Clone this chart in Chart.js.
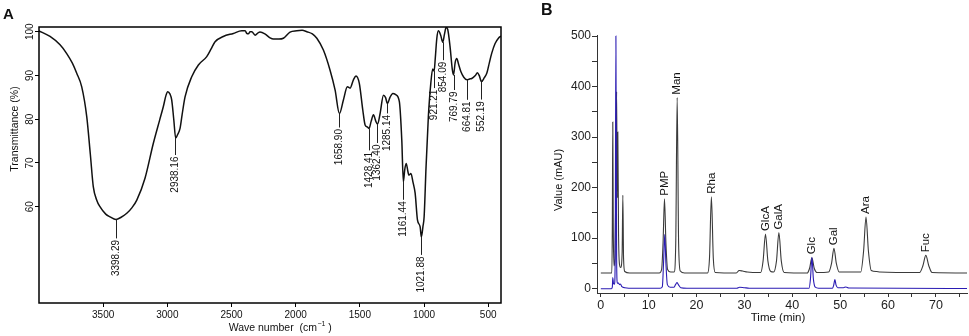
<!DOCTYPE html>
<html>
<head>
<meta charset="utf-8">
<script src="https://cdn.jsdelivr.net/npm/chart.js@4.4.1/dist/chart.umd.min.js"></script>
<style>
html, body { margin: 0; padding: 0; background: #fff; }
#wrap { position: relative; width: 969px; height: 336px; overflow: hidden; }
#ftir { position: absolute; left: 0; top: 0; }
#hplc { position: absolute; left: 520px; top: 0; }
</style>
</head>
<body>
<div id="wrap">
  <canvas id="ftir" width="515" height="336" style="width:515px;height:336px"></canvas>
  <canvas id="hplc" width="449" height="336" style="width:449px;height:336px"></canvas>
</div>
<script>
// ---- panel A : FTIR spectrum ----
const ftirWave = [4000, 3914, 3836, 3784, 3740, 3706, 3667, 3628, 3600, 3577, 3550, 3525, 3480, 3447, 3400, 3360, 3316, 3275, 3238, 3174,
  3109, 3060, 3031, 3010, 2997, 2980, 2966, 2950, 2935, 2920, 2901, 2885, 2862, 2810, 2758, 2693, 2660, 2628, 2564, 2486,
  2420, 2394, 2381, 2369, 2355, 2342, 2316, 2290, 2278, 2240, 2200, 2174, 2130, 2096, 2044, 1991, 1950, 1913, 1870, 1835,
  1784, 1732, 1693, 1659, 1628, 1597, 1576, 1550, 1530, 1504, 1477, 1459, 1440, 1428, 1412, 1394, 1375, 1362, 1342, 1316,
  1300, 1285, 1265, 1243, 1220, 1192, 1173, 1161, 1150, 1139, 1125, 1118, 1102, 1085, 1069, 1051, 1030, 1021, 1008, 999,
  984, 966, 947, 932, 921, 912, 900, 888, 870, 854, 840, 828, 815, 797, 780, 770, 757, 745, 730, 713,
  690, 665, 645, 628, 600, 584, 570, 552, 530, 511, 490, 472, 446, 420, 400];
const ftirT = [100.2, 98.9, 97.0, 95.0, 92.8, 90.5, 87.4, 80.6, 72.0, 64.6, 61.5, 60.0, 58.3, 57.7, 57.1, 57.6, 58.5, 59.8, 61.5, 66.5,
  74.5, 79.8, 82.9, 85.5, 86.3, 85.8, 84.4, 80.0, 75.7, 76.5, 77.9, 81.0, 85.1, 89.7, 92.4, 94.3, 96.0, 97.7, 98.9, 99.6,
  100.2, 100.2, 99.6, 99.5, 100.0, 100.0, 99.2, 99.8, 99.9, 99.5, 98.6, 98.3, 98.3, 98.5, 99.9, 100.2, 100.3, 100.0, 99.5, 98.5,
  95.8, 91.2, 86.7, 81.3, 84.4, 87.4, 87.1, 89.0, 89.9, 88.2, 82.1, 78.7, 78.2, 77.9, 79.5, 81.0, 79.5, 78.9, 81.3, 85.5,
  85.0, 83.6, 85.0, 85.9, 85.6, 84.0, 75.2, 65.7, 68.5, 69.9, 68.0, 67.2, 67.6, 65.5, 63.1, 57.0, 55.4, 53.1, 55.5, 57.7,
  69.1, 80.6, 88.2, 91.5, 91.0, 94.0, 98.5, 100.2, 99.2, 97.6, 99.5, 101.0, 100.5, 96.6, 91.5, 90.1, 93.0, 93.9, 92.5, 90.9,
  89.6, 89.0, 89.2, 89.3, 90.0, 90.6, 90.0, 88.6, 89.5, 90.5, 93.0, 95.1, 97.3, 98.5, 99.0];
const ftirXTicks = [3500, 3000, 2500, 2000, 1500, 1000, 500];
const ftirYTicks = [60, 70, 80, 90, 100];
const ftirPeakWave = [3398.29, 2938.16, 1658.90, 1428.41, 1362.40, 1285.14, 1161.44, 1021.88, 921.21, 854.09, 769.79, 664.81, 552.19];
const ftirPeakT = [57.1, 75.7, 81.3, 77.9, 78.9, 83.6, 65.7, 53.1, 91.0, 97.6, 90.1, 89.0, 88.6];

// ---- panel B : HPLC chromatogram ----
const blackTime = [0, 2.3, 2.4, 2.5, 2.6, 2.75, 2.95, 3.15, 3.3, 3.42, 3.55, 3.7, 3.9, 4.15, 4.45, 4.6, 4.75, 5.0, 6.0, 12.2,
  12.7, 13.0, 13.3, 13.6, 13.95, 14.6, 15.3, 15.65, 15.95, 16.25, 16.6, 17.5, 22.3, 22.7, 23.1, 23.5, 23.9, 28.3, 28.9, 29.6,
  30.6, 33.4, 33.9, 34.4, 34.9, 35.5, 36.1, 36.7, 37.2, 37.7, 38.3, 43.1, 43.6, 44.1, 44.6, 45.2, 47.6, 48.2, 48.7, 49.2,
  49.8, 54.3, 54.9, 55.4, 55.9, 56.5, 57.6, 58.3, 66.6, 67.3, 67.9, 68.5, 69.2, 76.5];
const blackValue = [31, 31, 120, 330, 120, 45, 60, 200, 390, 180, 310, 110, 48, 42, 70, 185, 60, 34, 31, 31,
  38, 90, 178, 90, 38, 33, 33, 90, 378, 90, 35, 31, 31, 60, 182, 60, 32, 31, 36, 35,
  33, 32, 55, 108, 55, 34, 33, 55, 111, 55, 32, 31, 40, 61, 40, 32, 33, 50, 80, 50,
  33, 33, 75, 142, 75, 36, 34, 33, 32, 46, 66, 46, 32, 31];
const blueTime = [0, 2.2, 2.4, 2.5, 2.65, 2.85, 3.0, 3.15, 3.3, 3.45, 3.7, 3.9, 4.1, 4.4, 5.0, 7.0, 12.4, 12.85, 13.1, 13.35,
  13.6, 13.9, 14.5, 15.3, 15.6, 15.9, 16.2, 16.7, 18.0, 28.4, 29.0, 30.0, 31.0, 43.5, 43.8, 44.1, 44.4, 44.8, 45.5, 48.4,
  48.65, 48.9, 49.15, 49.5, 50.7, 51.2, 51.8, 76.5];
const blueValue = [0, 0, 3, 22, 10, 9, 60, 500, 60, 11, 11, 8, 9, 4, 2, 1, 1, 4, 50, 107,
  50, 8, 3, 3, 8, 12, 8, 2, 1, 1, 3, 2, 1, 1, 20, 62, 20, 3, 1, 1,
  7, 18, 7, 2, 2, 3.5, 1.5, 0.5];
const timeTicks = [0, 5, 10, 15, 20, 25, 30, 35, 40, 45, 50, 55, 60, 65, 70, 75];
const valueTicks = [0, 50, 100, 150, 200, 250, 300, 350, 400, 450, 500];
const peakNames = ['PMP', 'Man', 'Rha', 'GlcA', 'GalA', 'Glc', 'Gal', 'Ara', 'Fuc'];
const peakTimes = [13.3, 15.95, 23.1, 34.4, 37.2, 44.1, 48.7, 55.4, 67.9];
const peakTops = [178, 378, 182, 108, 111, 62, 80, 142, 66];

const FONT = '"Liberation Sans", Arial, Helvetica, sans-serif';
Chart.defaults.font.family = FONT;
Chart.defaults.color = '#111';

const pairs = (xs, ys) => xs.map((v, i) => ({ x: v, y: ys[i] }));

// leader line lengths under each FTIR peak label (px)
const leaderLen = [19, 17, 14, 22, 19, 10, 18, 18, 17, 18, 15, 20, 18];

const ftirDecor = {
  id: 'ftirDecor',
  afterDraw(chart) {
    const { ctx, chartArea: a, scales: { x, y } } = chart;
    ctx.save();
    ctx.strokeStyle = '#000';
    ctx.lineWidth = 1.5;
    ctx.strokeRect(a.left, a.top, a.right - a.left, a.bottom - a.top);

    // rotated y tick labels
    ctx.fillStyle = '#111';
    ctx.font = '10px ' + FONT;
    ctx.textAlign = 'center';
    ctx.textBaseline = 'middle';
    y.ticks.forEach(t => {
      ctx.save();
      ctx.translate(30, y.getPixelForValue(t.value));
      ctx.rotate(-Math.PI / 2);
      ctx.fillText(String(t.value), 0, 0);
      ctx.restore();
    });

    // y title
    ctx.save();
    ctx.font = '10.5px ' + FONT;
    ctx.translate(15, 129);
    ctx.rotate(-Math.PI / 2);
    ctx.fillText('Transmittance (%)', 0, 0);
    ctx.restore();

    // x title with superscript
    ctx.font = '10.5px ' + FONT;
    const p1 = 'Wave number  (cm', p3 = ' )';
    const w1 = ctx.measureText(p1).width, w3 = ctx.measureText(p3).width;
    ctx.font = '7px ' + FONT;
    const sup = '\u22121', w2 = ctx.measureText(sup).width;
    let sx = 280 - (w1 + w2 + w3) / 2;
    ctx.textAlign = 'left';
    ctx.font = '10.5px ' + FONT;
    ctx.fillText(p1, sx, 328);
    ctx.font = '7px ' + FONT;
    ctx.fillText(sup, sx + w1 + 0.5, 324);
    ctx.font = '10.5px ' + FONT;
    ctx.fillText(p3, sx + w1 + w2 + 0.5, 328);

    // panel letter
    ctx.font = 'bold 15px ' + FONT;
    ctx.textBaseline = 'alphabetic';
    ctx.fillText('A', 3, 19);

    // peak labels with leaders
    ctx.strokeStyle = '#222';
    ctx.lineWidth = 1;
    ctx.font = '10px ' + FONT;
    ctx.textAlign = 'right';
    ctx.textBaseline = 'middle';
    ftirPeakWave.forEach((w, i) => {
      const px = Math.round(x.getPixelForValue(w)) + 0.5;
      const py = y.getPixelForValue(ftirPeakT[i]);
      const end = py + leaderLen[i];
      ctx.beginPath();
      ctx.moveTo(px, py);
      ctx.lineTo(px, end);
      ctx.stroke();
      ctx.save();
      ctx.translate(px, end + 1.5);
      ctx.rotate(-Math.PI / 2);
      ctx.fillText(w.toFixed(2), 0, 0);
      ctx.restore();
    });
    ctx.restore();
  }
};

new Chart(document.getElementById('ftir'), {
  type: 'line',
  data: {
    datasets: [{
      data: pairs(ftirWave, ftirT),
      borderColor: '#111',
      borderWidth: 1.5,
      pointRadius: 0,
      fill: false,
      cubicInterpolationMode: 'monotone'
    }]
  },
  options: {
    responsive: false,
    animation: false,
    devicePixelRatio: 1,
    layout: { padding: { top: 27, right: 14, left: 0, bottom: 0 } },
    plugins: { legend: { display: false }, tooltip: { enabled: false } },
    scales: {
      x: {
        type: 'linear',
        reverse: true,
        min: 400,
        max: 4000,
        afterBuildTicks: s => { s.ticks = ftirXTicks.map(v => ({ value: v })); },
        afterFit: s => { s.height = 33; },
        border: { display: false },
        grid: { display: true, drawOnChartArea: false, drawTicks: true, tickLength: 4, color: '#000', lineWidth: 1 },
        ticks: { font: { size: 10 }, padding: 2, maxRotation: 0, autoSkip: false, color: '#111', callback: v => String(v) }
      },
      y: {
        min: 38,
        max: 101.07,
        afterBuildTicks: s => { s.ticks = ftirYTicks.map(v => ({ value: v })); },
        afterFit: s => { s.width = 39; },
        border: { display: false },
        grid: { display: true, drawOnChartArea: false, drawTicks: true, tickLength: 4, color: '#000', lineWidth: 1 },
        ticks: { display: false }
      }
    }
  },
  plugins: [ftirDecor]
});

const hplcDecor = {
  id: 'hplcDecor',
  afterDraw(chart) {
    const { ctx, scales: { x, y } } = chart;
    ctx.save();
    ctx.fillStyle = '#111';
    // titles
    ctx.font = '11px ' + FONT;
    ctx.textAlign = 'center';
    ctx.textBaseline = 'middle';
    ctx.save();
    ctx.translate(39, 180);
    ctx.rotate(-Math.PI / 2);
    ctx.fillText('Value (mAU)', 0, 0);
    ctx.restore();
    ctx.font = '11.5px ' + FONT;
    ctx.fillText('Time (min)', 258, 318);

    // panel letter
    ctx.font = 'bold 16px ' + FONT;
    ctx.textAlign = 'left';
    ctx.textBaseline = 'alphabetic';
    ctx.fillText('B', 21, 15);

    // peak names
    ctx.font = '11.5px ' + FONT;
    ctx.textAlign = 'left';
    ctx.textBaseline = 'middle';
    peakNames.forEach((n, i) => {
      const px = x.getPixelForValue(peakTimes[i]);
      const py = y.getPixelForValue(peakTops[i]) - 3;
      ctx.save();
      ctx.translate(px, py);
      ctx.rotate(-Math.PI / 2);
      ctx.fillText(n, 0, 0);
      ctx.restore();
    });
    ctx.restore();
  }
};

new Chart(document.getElementById('hplc'), {
  type: 'line',
  data: {
    datasets: [{
      data: pairs(blueTime, blueValue),
      borderColor: '#2a1bb3',
      borderWidth: 1.1,
      pointRadius: 0,
      fill: false,
      cubicInterpolationMode: 'monotone'
    }, {
      data: pairs(blackTime, blackValue),
      borderColor: '#3a3a3a',
      borderWidth: 1.1,
      pointRadius: 0,
      fill: false,
      cubicInterpolationMode: 'monotone'
    }]
  },
  options: {
    responsive: false,
    animation: false,
    devicePixelRatio: 1,
    layout: { padding: { top: 35, right: 2, left: 0, bottom: 0 } },
    plugins: { legend: { display: false }, tooltip: { enabled: false } },
    scales: {
      x: {
        type: 'linear',
        min: -0.8,
        max: 76.5,
        afterBuildTicks: s => { s.ticks = timeTicks.map(v => ({ value: v })); },
        afterFit: s => { s.height = 43; },
        border: { display: true, color: '#333', width: 1 },
        grid: { display: true, drawOnChartArea: false, drawTicks: true, tickLength: 4, color: '#333', lineWidth: 1 },
        ticks: {
          font: { size: 12.5 }, padding: 1, maxRotation: 0, autoSkip: false, color: '#222',
          callback: v => (v % 10 === 0 ? String(v) : '')
        }
      },
      y: {
        min: -8.5,
        max: 502,
        afterBuildTicks: s => { s.ticks = valueTicks.map(v => ({ value: v })); },
        afterFit: s => { s.width = 77; },
        border: { display: true, color: '#333', width: 1 },
        grid: { display: true, drawOnChartArea: false, drawTicks: true, tickLength: 5, color: '#333', lineWidth: 1 },
        ticks: {
          font: { size: 12 }, padding: 1, autoSkip: false, color: '#222',
          callback: v => (v % 100 === 0 ? String(v) : '')
        }
      }
    }
  },
  plugins: [hplcDecor]
});
</script>
</body>
</html>
